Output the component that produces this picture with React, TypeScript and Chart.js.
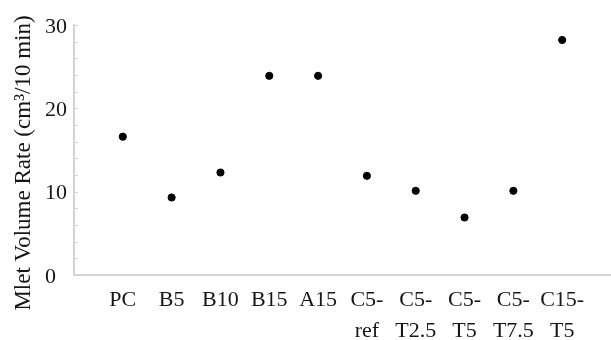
import { useEffect, useRef } from 'react';
import { Chart, registerables } from 'chart.js';

Chart.register(...registerables);

// Sample names (a line break splits a two-line label)
const categories = [
  'PC',
  'B5',
  'B10',
  'B15',
  'A15',
  'C5-\nref',
  'C5-\nT2.5',
  'C5-\nT5',
  'C5-\nT7.5',
  'C15-\nT5',
];

// Melt volume rate, cm³/10 min
const mvrValues = [16.6, 9.3, 12.3, 23.9, 23.9, 11.9, 10.1, 6.9, 10.1, 28.2];

const yTickLabels = [0, 10, 20, 30];
const yAxisTitle = 'Mlet Volume Rate (cm³/10 min)';

const FONT = "'Liberation Serif', 'Times New Roman', serif";
const TEXT = '#161616';
const AXIS = '#d3d3d3';

// Short inward ticks on the y axis and the rotated axis title
const axisExtras = {
  id: 'axisExtras',
  afterDraw(chart: any) {
    const { ctx, chartArea, scales } = chart;
    const y = scales.y;
    ctx.save();
    ctx.strokeStyle = AXIS;
    ctx.lineWidth = 1;
    for (const t of y.ticks) {
      const py = Math.round(y.getPixelForValue(t.value)) + 0.5;
      ctx.beginPath();
      ctx.moveTo(chartArea.left, py);
      ctx.lineTo(chartArea.left + 4, py);
      ctx.stroke();
    }
    ctx.translate(24, 163);
    ctx.rotate(-Math.PI / 2);
    ctx.fillStyle = TEXT;
    ctx.font = `23px ${FONT}`;
    ctx.textAlign = 'center';
    ctx.textBaseline = 'middle';
    ctx.fillText(yAxisTitle, 0, 0);
    ctx.restore();
  },
};

export default function App() {
  const canvasRef = useRef<HTMLCanvasElement | null>(null);

  useEffect(() => {
    document.body.style.margin = '0';
    const canvas = canvasRef.current;
    if (!canvas) return;

    const chart = new Chart(canvas, {
      type: 'scatter',
      data: {
        datasets: [
          {
            data: mvrValues.map((v, i) => ({ x: i + 1, y: v })),
            backgroundColor: '#000',
            borderColor: '#000',
            pointRadius: 3.6,
            pointHoverRadius: 3.6,
          },
        ],
      },
      options: {
        responsive: false,
        animation: false,
        layout: { autoPadding: false, padding: { left: 45, top: 25, right: 0, bottom: 0 } },
        plugins: {
          legend: { display: false },
          tooltip: { enabled: false },
          title: { display: false },
        },
        scales: {
          x: {
            type: 'linear',
            min: 0,
            max: categories.length + 1,
            grid: {
              display: true,
              drawOnChartArea: false,
              drawTicks: true,
              tickLength: 10,
              tickColor: 'rgba(0,0,0,0)',
            },
            border: { display: true, color: AXIS, width: 2 },
            ticks: {
              stepSize: 1,
              autoSkip: false,
              maxRotation: 0,
              minRotation: 0,
              padding: 0,
              color: TEXT,
              font: { family: FONT, size: 22, lineHeight: 1.4 },
              callback: (v: any) => {
                const label = categories[Number(v) - 1];
                return label ? label.split('\n') : '';
              },
            },
            afterFit: (scale: any) => {
              scale.height = 65;
            },
          },
          y: {
            type: 'linear',
            min: 0,
            max: 30,
            grid: { display: false, drawTicks: false },
            border: { display: true, color: AXIS, width: 2 },
            ticks: {
              stepSize: 2,
              autoSkip: false,
              crossAlign: 'far',
              padding: 9,
              labelOffset: 2,
              color: TEXT,
              font: { family: FONT, size: 22 },
              callback: (v: any) =>
                yTickLabels.includes(Number(v)) ? String(v) : '',
            },
            afterFit: (scale: any) => {
              scale.width = 29;
            },
          },
        },
      },
      plugins: [axisExtras],
    });

    return () => chart.destroy();
  }, []);

  return (
    <div style={{ position: 'absolute', left: 0, top: 0, width: 611, height: 340, background: '#fff' }}>
      <canvas ref={canvasRef} width={611} height={340} />
    </div>
  );
}
